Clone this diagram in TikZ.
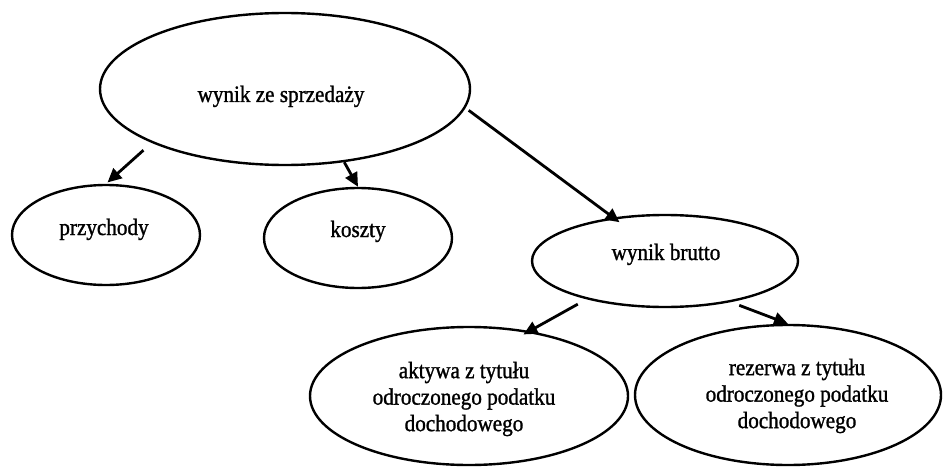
\documentclass[tikz,border=0pt]{standalone}
\usepackage{fontspec}
\setmainfont{Liberation Serif}[FakeStretch=0.9,FakeBold=1.2]
\usetikzlibrary{shapes.geometric,arrows.meta}
\begin{document}
\begin{tikzpicture}[x=1pt,y=-1pt,
  oval/.style={draw,ellipse,line width=2.4pt,inner sep=0pt},
  lbl/.style={font=\fontsize{23.5}{26.5}\selectfont,inner sep=0pt,align=center},
  arr/.style={line width=2.8pt,-{Triangle[length=14pt,width=13pt]}}]
\path[use as bounding box] (0,0) rectangle (944,468);
\node[oval,minimum width=370pt,minimum height=152pt] (top) at (285,89) {};
\node[oval,minimum width=188pt,minimum height=100pt] (przychody) at (106,235) {};
\node[oval,minimum width=188pt,minimum height=100pt] (koszty) at (358,238) {};
\node[oval,minimum width=266pt,minimum height=92pt] (brutto) at (665,261) {};
\node[oval,minimum width=318pt,minimum height=138pt] (aktywa) at (469,396) {};
\node[oval,minimum width=306pt,minimum height=140pt] (rezerwa) at (788,395) {};
\node[lbl,anchor=base] (toptext) at (281,102) {wynik ze sprzedaży};
\node[lbl,anchor=base] (przt) at (104,235) {przychody};
\node[lbl,anchor=base] (kt) at (358,237) {koszty};
\node[lbl,anchor=base] (bt) at (666,260) {wynik brutto};
\node[lbl] (aktt) at (464,399) {aktywa z tytułu\\odroczonego podatku\\dochodowego};
\node[lbl] (rezt) at (797,396) {rezerwa z tytułu\\odroczonego podatku\\dochodowego};
\draw[arr,shorten <=11pt,shorten >=2pt] (top.202) -- (przychody.north);
\draw[arr] (top.-51) -- (koszty.north);
\draw[arr,shorten <=4pt,shorten >=-8pt] (top.-6) -- (brutto.140);
\draw[arr,shorten <=10pt,shorten >=-7pt] (brutto.206) -- (aktywa.47);
\draw[arr,shorten <=9pt] (brutto.-32) -- (rezerwa.north);
\end{tikzpicture}
\end{document}
